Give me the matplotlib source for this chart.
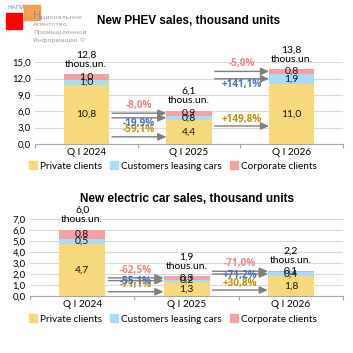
import numpy as np
import matplotlib.pyplot as plt
from matplotlib.patches import Rectangle

# Data
quarters = ["Q I 2024", "Q I 2025", "Q I 2026"]
segments = ["Private clients", "Customers leasing cars", "Corporate clients"]

phev_private = [10.8, 4.4, 11.0]
phev_leasing = [1.0, 0.8, 1.9]
phev_corporate = [1.0, 0.9, 0.8]
phev_total = ["12,8", "6,1", "13,8"]
phev_changes = [["-59,1%", "-19,9%", "-8,0%"], ["+149,8%", "+141,1%", "-5,0%"]]

ev_private = [4.7, 1.3, 1.8]
ev_leasing = [0.5, 0.2, 0.4]
ev_corporate = [0.8, 0.3, 0.1]
ev_total = ["6,0", "1,9", "2,2"]
ev_changes = [["-71,1%", "-55,1%", "-62,5%"], ["+30,8%", "+71,2%", "-71,0%"]]

seg_colors = ["#F8D97E", "#A8DCF8", "#F7A1A3"]
txt_colors = ["#BF9000", "#4472C4", "#F4838A"]
FONT = "Lato"
BOLD_FONT = "Open Sans"

def fmt(v):
    return f"{v:.1f}".replace(".", ",")

def draw_chart(ax, private, leasing, corporate, totals, changes, ymax, ystep, title,
               title_pad, leasing_off):
    x = np.arange(len(quarters))
    w = 0.44
    stack = [private, leasing, corporate]
    bottom = np.zeros(len(x))
    for vals, col in zip(stack, seg_colors):
        vals = np.array(vals)
        ax.bar(x, vals, w, bottom=bottom, color=col, zorder=2)
        for xi, b, v in zip(x, bottom, vals):
            ax.text(xi, b + v / 2, fmt(v), ha="center", va="center",
                    fontsize=7.5, family=FONT, color="#111111", zorder=4)
        bottom = bottom + vals

    # totals above bars
    for xi, top, t in zip(x, bottom, totals):
        ax.annotate(f"{t}\nthous.un.", xy=(xi, top), xytext=(0, 4),
                    textcoords="offset points", ha="center", va="bottom",
                    fontsize=7.5, family=FONT, linespacing=1.05, annotation_clip=False)

    # change arrows between bars
    for i, labels in enumerate(changes):
        tgt = i + 1
        lows = [0, private[tgt], private[tgt] + leasing[tgt]]
        highs = [private[tgt], private[tgt] + leasing[tgt],
                 private[tgt] + leasing[tgt] + corporate[tgt]]
        levels = [0.3 * highs[0], (lows[1] + highs[1]) / 2, (lows[2] + highs[2]) / 2]
        offsets = [5, leasing_off, 5.5]
        x0 = i + w / 2 + 0.03
        x1 = tgt - w / 2
        for k in range(3):
            ax.annotate("", xy=(x1, levels[k]), xytext=(x0, levels[k]),
                        arrowprops=dict(arrowstyle="-|>,head_length=0.5,head_width=0.22",
                                        color="#7F7F7F", lw=1.0, shrinkA=0, shrinkB=0),
                        zorder=3)
            ax.annotate(labels[k], xy=((x0 + x1) / 2, levels[k]), xytext=(0, offsets[k]),
                        textcoords="offset points", ha="center", va="center",
                        fontsize=7.2, family=BOLD_FONT, fontweight="bold",
                        color=txt_colors[k], zorder=5)

    ax.set_xlim(-0.5, len(x) - 0.5)
    ax.set_ylim(0, ymax)
    ticks = np.arange(0, ymax + ystep / 2, ystep)
    ax.set_yticks(ticks)
    ax.set_yticklabels([fmt(t) for t in ticks], fontsize=6.8, family=FONT)
    ax.set_xticks(np.arange(-0.5, len(x)), minor=False)
    ax.set_xticklabels([])
    ax.set_xticks(x, minor=True)
    ax.set_xticklabels(quarters, minor=True, fontsize=7.2, family=FONT)
    ax.tick_params(axis="x", which="major", length=3, color="#A6A6A6", direction="out")
    ax.tick_params(axis="x", which="minor", length=0, pad=3)
    ax.tick_params(axis="y", length=0, pad=3)
    ax.grid(axis="y", color="#D9D9D9", lw=0.8, zorder=0)
    ax.set_axisbelow(True)
    for s in ["top", "right", "left"]:
        ax.spines[s].set_visible(False)
    ax.spines["bottom"].set_color("#A6A6A6")
    ax.set_title(title, fontsize=8.5, family="Liberation Sans", fontweight="bold",
                 pad=title_pad)

fig = plt.figure(figsize=(3.53, 3.53), dpi=100)

ax1 = fig.add_axes([0.099, 0.592, 0.873, 0.232])
draw_chart(ax1, phev_private, phev_leasing, phev_corporate, phev_total, phev_changes,
           15, 3, "New PHEV sales, thousand units", 27.5, -4)

ax2 = fig.add_axes([0.085, 0.1615, 0.887, 0.218])
draw_chart(ax2, ev_private, ev_leasing, ev_corporate, ev_total, ev_changes,
           7, 1, "New electric car sales, thousand units", 12, -1)

# legends
handles = [Rectangle((0, 0), 1, 1, color=c) for c in seg_colors]
for y in [0.530, 0.096]:
    fig.legend(handles, segments, loc="center", bbox_to_anchor=(0.49, y), ncol=3,
               frameon=False, handlelength=0.8, handleheight=0.8, handletextpad=0.3,
               columnspacing=0.8, prop={"family": FONT, "size": 7.2})

# logo
fig.patches.append(Rectangle((6 / 353, 1 - 29 / 353), 16 / 353, 16 / 353,
                             transform=fig.transFigure, color="#FF0000", zorder=1))
fig.patches.append(Rectangle((24 / 353, 1 - 20 / 353), 16 / 353, 15 / 353,
                             transform=fig.transFigure, color="#F79646", alpha=0.9, zorder=1))
fig.text(7 / 353, 1 - 7.5 / 353, "НАПИ", fontsize=4.3, color="#7F8FB0", va="center",
         family="DejaVu Sans")
fig.text(33 / 353, 1 - 21 / 353, "Н", fontsize=8, color="#8C8C9C", va="bottom",
         family="DejaVu Sans", zorder=3)
logo_lines = ["ациональное", "Агентство", "Промышленной", "Информации ©"]
for k, line in enumerate(logo_lines):
    fig.text((38 if k == 0 else 33) / 353, 1 - (17 + 7.7 * k) / 353, line, fontsize=4.6,
             color="#9A9AAE", va="center", family="DejaVu Sans", zorder=3)

fig.savefig("out.png", dpi=100)
